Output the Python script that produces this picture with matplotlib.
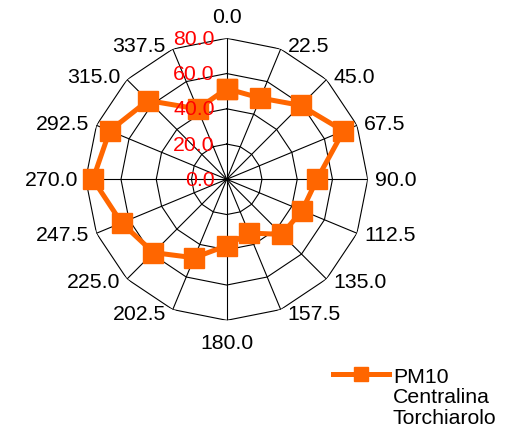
import numpy as np
import matplotlib
matplotlib.use("Agg")
import matplotlib.pyplot as plt
from matplotlib.transforms import offset_copy
from matplotlib.legend_handler import HandlerLine2D

plt.rcParams['font.family'] = ['Liberation Sans', 'DejaVu Sans']

# wind direction sectors (degrees) and PM10 values
directions = [0.0, 22.5, 45.0, 67.5, 90.0, 112.5, 135.0, 157.5,
              180.0, 202.5, 225.0, 247.5, 270.0, 292.5, 315.0, 337.5]
pm10 = [51.4, 49.9, 59.3, 71.7, 51.2, 46.3, 44.2, 33.0,
        37.6, 48.2, 58.8, 64.6, 75.9, 71.9, 63.2, 43.2]
r_ticks = [0, 20, 40, 60, 80]
series_label = "PM10\nCentralina\nTorchiarolo"

orange = '#FF6600'
fs = 15.3
line_sp = 1.1


class FirstLineHandler(HandlerLine2D):
    # move the legend handle up to sit beside the first text line
    def create_artists(self, legend, orig_handle, xdescent, ydescent,
                       width, height, fontsize, trans):
        artists = super().create_artists(legend, orig_handle, xdescent, ydescent,
                                         width, height, fontsize, trans)
        shift = fontsize * line_sp
        for a in artists:
            a.set_ydata(np.asarray(a.get_ydata()) + shift)
        return artists


fig = plt.figure(figsize=(5.17, 4.39), dpi=100)
ax = fig.add_axes([0.1658, 0.2681, 0.5455, 0.6424], projection='polar')
ax.set_theta_zero_location('N')
ax.set_theta_direction(-1)
ax.set_ylim(0, r_ticks[-1])

theta = np.deg2rad(directions)
theta_closed = np.append(theta, theta[0])

# spokes
ax.set_xticks(theta)
ax.set_xticklabels([])
ax.xaxis.grid(True, color='black', lw=0.8)
ax.set_yticks([])
ax.yaxis.grid(False)
ax.spines['polar'].set_visible(False)
ax.tick_params(length=0)

# polygon rings
for r in r_ticks[1:]:
    ax.plot(theta_closed, [r] * len(theta_closed), color='black', lw=0.8, zorder=1)

# data
vals_closed = pm10 + [pm10[0]]
line, = ax.plot(theta_closed, vals_closed, color=orange, lw=3.6, marker='s',
                ms=14, mfc=orange, mec=orange, zorder=3, clip_on=False,
                label=series_label)

# direction labels
for d, t in zip(directions, theta):
    sx, cy = np.sin(t), np.cos(t)
    if abs(sx) < 0.1:
        tr = offset_copy(ax.transData, fig=fig, x=0, y=22 * np.sign(cy), units='dots')
        ax.text(t, r_ticks[-1], f"{d:.1f}", transform=tr, ha='center', va='center',
                fontsize=fs)
    else:
        tr = offset_copy(ax.transData, fig=fig, x=7 * np.sign(sx), y=4 * cy, units='dots')
        ax.text(t, r_ticks[-1], f"{d:.1f}", transform=tr,
                ha='left' if sx > 0 else 'right', va='center', fontsize=fs)

# radial labels (drawn above the series)
tr_r = offset_copy(ax.transData, fig=fig, x=-12, y=0, units='dots')
for r in r_ticks:
    ax.text(0, r, f"{r:.1f}", transform=tr_r, ha='right', va='center',
            color='red', fontsize=fs, zorder=5)

leg = fig.legend(handles=[line], loc='upper left', bbox_to_anchor=(0.645, 0.162),
                 frameon=False, fontsize=fs, handlelength=2.6, handletextpad=0.2,
                 borderaxespad=0, borderpad=0,
                 handler_map={line: FirstLineHandler(numpoints=1)})
for h in leg.legend_handles:
    h.set_markersize(10)
for t in leg.get_texts():
    t.set_linespacing(line_sp)

fig.savefig('out.png', dpi=100)
